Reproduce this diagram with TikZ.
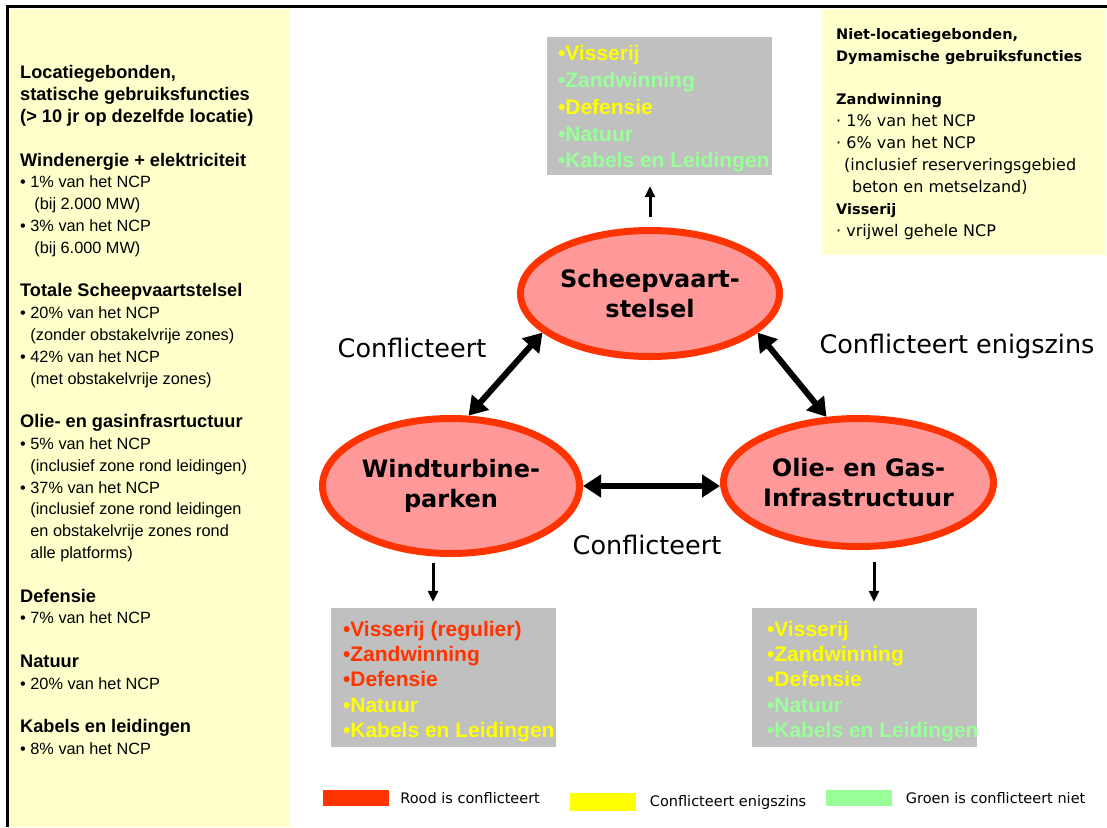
\documentclass[tikz,border=0pt]{standalone}
\usepackage{fontspec}
\setmainfont{Liberation Sans}
\newfontfamily\comicfont{DejaVu Sans}
\usetikzlibrary{arrows.meta,shapes.geometric,positioning}
\definecolor{confred}{HTML}{FF3300}
\definecolor{ellfill}{HTML}{FF9999}
\definecolor{confyellow}{HTML}{FFFF00}
\definecolor{confgreen}{HTML}{99FF99}
\definecolor{boxgray}{HTML}{C0C0C0}
\definecolor{panelyellow}{HTML}{FFFFCC}
\newcommand\ind{\hphantom{•\ }}
\newcommand\lhead[1]{{\bfseries\fontsize{18.2}{21.8}\selectfont #1}}
\newcommand\rhead[1]{{\bfseries\fontsize{14.5}{21.9}\selectfont #1}}
\tikzset{
    conflict/.style={ellipse, draw=confred, fill=ellfill, line width=7pt,
        inner sep=0pt, align=center,
        font=\comicfont\bfseries\fontsize{24}{30}\selectfont},
    conflabel/.style={inner sep=0pt, font=\comicfont\fontsize{25.5}{30}\selectfont},
    paneltext/.style={anchor=north west, align=left, inner sep=0pt,
        font=\fontsize{16.3}{21.8}\selectfont},
    dyntext/.style={anchor=north west, align=left, inner sep=0pt,
        font=\comicfont\fontsize{16}{21.9}\selectfont},
    graybox/.style={fill=boxgray, minimum width=225pt, minimum height=139pt, inner sep=0pt},
    boxlist/.style={anchor=west, align=left, inner sep=0pt,
        font=\bfseries\fontsize{21}{25.3}\selectfont},
    dblarrow/.style={line width=6pt, {Triangle[length=18pt,width=22pt]}-{Triangle[length=18pt,width=22pt]}},
    smallarrow/.style={line width=3pt, -{Triangle[length=11pt,width=10pt]}},
    legbox/.style={minimum width=66pt, minimum height=16pt, inner sep=0pt},
    legtext/.style={inner sep=0pt, font=\comicfont\fontsize{14.5}{17}\selectfont},
}
\begin{document}
\begin{tikzpicture}[x=1pt,y=-1pt]
\useasboundingbox (0,0) rectangle (1107,827);

% side panels and frame
\fill[panelyellow] (9,9) rectangle (290,827);
\fill[panelyellow] (822,9) rectangle (1105,255);
\draw[line width=3pt] (7.5,827) -- (7.5,6.5) -- (1107,6.5);

% static functions
\node[paneltext] (statisch) at (20,65.5) {%
\lhead{Locatiegebonden,}\\
\lhead{statische gebruiksfuncties}\\
\lhead{(> 10 jr op dezelfde locatie)}\\[21.8pt]
\lhead{Windenergie + elektriciteit}\\
• 1\% van het NCP\\
\ind\hspace*{4pt}(bij 2.000 MW)\\
• 3\% van het NCP\\
\ind\hspace*{4pt}(bij 6.000 MW)\\[21.8pt]
\lhead{Totale Scheepvaartstelsel}\\
• 20\% van het NCP\\
\ind(zonder obstakelvrije zones)\\
• 42\% van het NCP\\
\ind(met obstakelvrije zones)\\[21.8pt]
\lhead{Olie- en gasinfrasrtuctuur}\\
• 5\% van het NCP\\
\ind(inclusief zone rond leidingen)\\
• 37\% van het NCP\\
\ind(inclusief zone rond leidingen\\
\ind en obstakelvrije zones rond\\
\ind alle platforms)\\[21.8pt]
\lhead{Defensie}\\
• 7\% van het NCP\\[21.8pt]
\lhead{Natuur}\\
• 20\% van het NCP\\[21.8pt]
\lhead{Kabels en leidingen}\\
• 8\% van het NCP};

% dynamic functions
\node[dyntext] (dynamisch) at (836,28) {%
\rhead{Niet-locatiegebonden,}\\
\rhead{Dymamische gebruiksfuncties}\\[21.9pt]
\rhead{Zandwinning}\\
· 1\% van het NCP\\
· 6\% van het NCP\\
\hspace*{8pt}(inclusief reserveringsgebied\\
\hspace*{16pt}beton en metselzand)\\
\rhead{Visserij}\\
· vrijwel gehele NCP};

% the three functions
\node[conflict, minimum width=259pt, minimum height=126pt] (scheep) at (650,293.5) {Scheepvaart-\\stelsel};
\node[conflict, minimum width=257pt, minimum height=135pt] (wind) at (451,486) {Windturbine-\\parken};
\node[conflict, minimum width=260pt, minimum height=128pt] (olie) at (858.5,482.5) {Olie- en Gas-\\Infrastructuur};

\draw[dblarrow] (scheep.200) -- (wind.76);
\draw[dblarrow] (scheep.340) -- (olie.116);
\draw[dblarrow] (wind.east) -- (wind.east -| olie.west);

\node[conflabel] (lblleft) at (412,348) {Conflicteert};
\node[conflabel] (lblright) at (957,346) {Conflicteert enigszins};
\node[conflabel] (lblbottom) at (647,545) {Conflicteert};

% gray boxes
\node[graybox, minimum height=138pt] (topbox) at (659.5,106) {};
\node[boxlist, font=\bfseries\fontsize{21}{26.7}\selectfont] (toplist) at ([xshift=11pt,yshift=-3pt]topbox.west) {%
\textcolor{confyellow}{•Visserij}\\
\textcolor{confgreen}{•Zandwinning}\\
\textcolor{confyellow}{•Defensie}\\
\textcolor{confgreen}{•Natuur}\\
\textcolor{confgreen}{•Kabels en Leidingen}};

\node[graybox] (leftbox) at (443.5,677.5) {};
\node[boxlist] (leftlist) at ([xshift=12pt,yshift=-4pt]leftbox.west) {%
\textcolor{confred}{•Visserij (regulier)}\\
\textcolor{confred}{•Zandwinning}\\
\textcolor{confred}{•Defensie}\\
\textcolor{confyellow}{•Natuur}\\
\textcolor{confyellow}{•Kabels en Leidingen}};

\node[graybox] (rightbox) at (864.5,677.5) {};
\node[boxlist] (rightlist) at ([xshift=15pt,yshift=-4pt]rightbox.west) {%
\textcolor{confyellow}{•Visserij}\\
\textcolor{confyellow}{•Zandwinning}\\
\textcolor{confyellow}{•Defensie}\\
\textcolor{confgreen}{•Natuur}\\
\textcolor{confgreen}{•Kabels en Leidingen}};

\coordinate (downL) at ([xshift=-10.5pt]leftbox.north);
\coordinate (downR) at ([xshift=9.5pt]rightbox.north);
\draw[smallarrow, shorten <=10pt, shorten >=11pt] (scheep.north) -- (scheep.north |- topbox.south);
\draw[smallarrow, shorten <=6pt, shorten >=6pt] (downL |- wind.south) -- (downL);
\draw[smallarrow, shorten <=12pt, shorten >=6pt] (downR |- olie.south) -- (downR);

% legend
\node[legbox, fill=confred] (legred) at (356,798) {};
\node[legtext, right=11pt of legred] (legredtxt) {Rood is conflicteert};
\node[legbox, fill=confyellow, minimum height=18pt] (legyellow) at (602.5,802) {};
\node[legtext, right=14pt of legyellow] (legyellowtxt) {Conflicteert enigszins};
\node[legbox, fill=confgreen] (leggreen) at (858.5,798) {};
\node[legtext, right=14pt of leggreen] (leggreentxt) {Groen is conflicteert niet};
\end{tikzpicture}
\end{document}
